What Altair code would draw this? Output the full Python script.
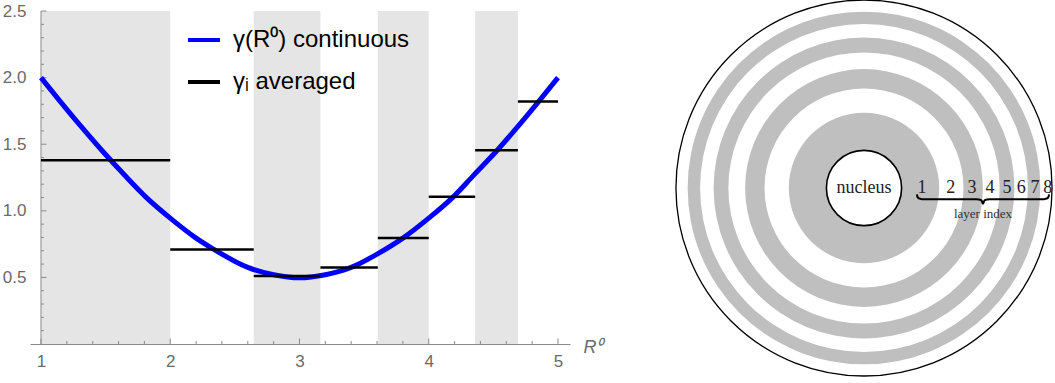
import math
import altair as alt
import pandas as pd

# ---- data -------------------------------------------------------------
# layer boundaries in R^0 (the same layers are shown in both panels)
bounds = [1.0, 2.0, 2.646, 3.162, 3.606, 4.0, 4.359, 4.690, 5.0]
# layer-averaged gamma_i, one value per layer
gamma_avg = [1.38, 0.71, 0.51, 0.575, 0.795, 1.105, 1.455, 1.82]
# continuous gamma(R^0)
curve_r = [1.00, 1.15, 1.30, 1.47, 1.65, 1.81, 2.00, 2.20, 2.33, 2.60, 2.80,
           3.00, 3.20, 3.40, 3.61, 3.80, 4.00, 4.19, 4.35, 4.53, 4.70, 4.85, 5.00]
curve_g = [2.00, 1.82, 1.645, 1.455, 1.265, 1.105, 0.945, 0.795, 0.715, 0.575, 0.52,
           0.497, 0.52, 0.575, 0.68, 0.795, 0.945, 1.105, 1.27, 1.455, 1.645, 1.82, 2.00]

x_major = [1, 2, 3, 4, 5]
x_minor = [1.2, 1.4, 1.6, 1.8, 2.2, 2.4, 2.6, 2.8, 3.2, 3.4, 3.6, 3.8,
           4.2, 4.4, 4.6, 4.8]
y_major = [0.5, 1.0, 1.5, 2.0, 2.5]
y_minor = [0.1, 0.2, 0.3, 0.4, 0.6, 0.7, 0.8, 0.9, 1.1, 1.2, 1.3, 1.4,
           1.6, 1.7, 1.8, 1.9, 2.1, 2.2, 2.3, 2.4]

series_names = ["γ(R⁰) continuous", "γᵢ averaged"]
series_colors = ["#0000ff", "#000000"]

# right panel: label of each layer placed at the layer's mid radius
layer_labels = ["1", "2", "3", "4", "5", "6", "7", "8"]
layer_label_r = [1.54, 2.31, 2.87, 3.35, 3.80, 4.18, 4.55, 4.89]
nucleus_r = 1.0
outer_r = 5.0
# curly brace under the layer labels
brace_x = [1.41, 1.42, 1.45, 1.51, 1.60, 3.00, 3.09, 3.13, 3.165, 3.20,
           3.24, 3.33, 4.73, 4.82, 4.88, 4.91, 4.92]
brace_y = [-0.17, -0.23, -0.27, -0.29, -0.30, -0.30, -0.31, -0.34, -0.42,
           -0.34, -0.31, -0.30, -0.30, -0.29, -0.27, -0.23, -0.17]

# ---- tables -----------------------------------------------------------
layers_df = pd.DataFrame({
    "idx": list(range(1, len(bounds))),
    "lo": bounds[:-1],
    "hi": bounds[1:],
    "gamma": gamma_avg,
    "series": series_names[1],
})
odd_layers = layers_df[layers_df["idx"] % 2 == 1]
curve_df = pd.DataFrame({"r": curve_r, "g": curve_g, "series": series_names[0]})

AX_GRAY = "#8a8a8a"
LBL_GRAY = "#6a6a6a"
SANS = "Liberation Sans"
SERIF = "Liberation Serif"

# ---- left panel: gamma vs R^0 -----------------------------------------
W_L, H_L = 540, 344
xs = alt.Scale(domain=[0.915, 5.093], nice=False, zero=False)
ys = alt.Scale(domain=[0, 2.583], nice=False, zero=True)
color_scale = alt.Scale(domain=series_names, range=series_colors)

# the same axis definitions are repeated on every layer so they merge cleanly
x_axis = alt.Axis(values=x_major, format="d", ticks=False, tickSize=0,
                  grid=False, domainColor=AX_GRAY, domainWidth=1,
                  labelColor=LBL_GRAY, labelFont=SANS, labelFontSize=17,
                  labelPadding=9, title="R⁰", titleFont=SANS,
                  titleFontStyle="italic", titleFontWeight="normal",
                  titleFontSize=18, titleColor=LBL_GRAY, titleX=553,
                  titleY=3, titleAlign="left", titleBaseline="middle")
y_axis = alt.Axis(values=y_major, format=".1f", ticks=False, tickSize=0,
                  grid=False, domain=False, offset=-11,
                  labelColor=LBL_GRAY, labelFont=SANS, labelFontSize=17,
                  labelPadding=15, title=None)

legend = alt.Legend(title=None, orient="none", legendX=156, legendY=22,
                    symbolType="stroke", symbolSize=1024,
                    symbolStrokeWidth=4, labelFont=SANS, labelFontSize=24,
                    labelColor="black", labelOffset=11, labelLimit=0,
                    rowPadding=12, padding=0)

# shaded odd layers
bands = alt.Chart(odd_layers).mark_rect(color="#e5e5e5").encode(
    x=alt.X("lo:Q", scale=xs, axis=x_axis),
    x2="hi:Q",
    y=alt.Y(datum=0, scale=ys, axis=y_axis),
    y2=alt.Y2(datum=2.5),
)

# vertical axis line drawn at R^0 = 1
y_line = alt.Chart(pd.DataFrame({"x": [1.0]})).mark_rule(
    color=AX_GRAY, strokeWidth=1).encode(
    x=alt.X("x:Q", scale=xs, axis=x_axis),
    y=alt.Y(datum=0, scale=ys, axis=y_axis),
    y2=alt.Y2(datum=2.5),
)

def x_ticks(vals, length):
    # inward ticks on the horizontal axis
    return alt.Chart(pd.DataFrame({"t": vals})).mark_rule(
        color=AX_GRAY, strokeWidth=1, y2Offset=-length).encode(
        x=alt.X("t:Q", scale=xs, axis=x_axis),
        y=alt.Y(datum=0, scale=ys, axis=y_axis),
        y2=alt.Y2(datum=0),
    )

def y_ticks(vals, length):
    # inward ticks on the vertical axis
    return alt.Chart(pd.DataFrame({"t": vals})).mark_rule(
        color=AX_GRAY, strokeWidth=1, x2Offset=length).encode(
        y=alt.Y("t:Q", scale=ys, axis=y_axis),
        x=alt.X(datum=1, scale=xs, axis=x_axis),
        x2=alt.X2(datum=1),
    )

curve = alt.Chart(curve_df).mark_line(strokeWidth=5, interpolate="monotone").encode(
    x=alt.X("r:Q", scale=xs, axis=x_axis),
    y=alt.Y("g:Q", scale=ys, axis=y_axis),
    color=alt.Color("series:N", scale=color_scale, legend=legend),
)

averaged = alt.Chart(layers_df).mark_rule(strokeWidth=2.5).encode(
    x=alt.X("lo:Q", scale=xs, axis=x_axis),
    x2="hi:Q",
    y=alt.Y("gamma:Q", scale=ys, axis=y_axis),
    color=alt.Color("series:N", scale=color_scale, legend=legend),
)

left = alt.layer(
    bands, y_line,
    x_ticks(x_major, 5.5), x_ticks(x_minor, 3),
    y_ticks(y_major, 5.5), y_ticks(y_minor, 3),
    curve, averaged,
).properties(width=W_L, height=H_L)

# ---- right panel: layered sphere --------------------------------------
S = 376
xr = alt.Scale(domain=[-5, 5], nice=False, zero=False)
yr = alt.Scale(domain=[-5, 5], nice=False, zero=False)
rs = alt.Scale(type="linear", domain=[0, 5], range=[0, S / 2], zero=True)
FULL = 2 * math.pi

rings = alt.Chart(odd_layers).mark_arc(theta=0, theta2=FULL, color="#bfbfbf").encode(
    radius=alt.Radius("hi:Q", scale=rs),
    radius2="lo:Q",
)

outer = alt.Chart(pd.DataFrame({"r": [outer_r]})).mark_arc(
    theta=0, theta2=FULL, fillOpacity=0, stroke="black", strokeWidth=1.3).encode(
    radius=alt.Radius("r:Q", scale=rs),
)

nucleus = alt.Chart(pd.DataFrame({"r": [nucleus_r]})).mark_arc(
    theta=0, theta2=FULL, fill="white", stroke="black", strokeWidth=1.6).encode(
    radius=alt.Radius("r:Q", scale=rs),
)

nucleus_text = alt.Chart(pd.DataFrame({"x": [0.0], "y": [0.0], "t": ["nucleus"]})).mark_text(
    font=SERIF, fontSize=18, color="#222222", baseline="middle").encode(
    x=alt.X("x:Q", scale=xr, axis=None),
    y=alt.Y("y:Q", scale=yr, axis=None),
    text="t:N",
)

labels = alt.Chart(pd.DataFrame({"x": layer_label_r, "t": layer_labels})).mark_text(
    font=SERIF, fontSize=18, color="#222222", baseline="middle").encode(
    x=alt.X("x:Q", scale=xr, axis=None),
    y=alt.Y(datum=0, scale=yr, axis=None),
    text="t:N",
)

brace = alt.Chart(pd.DataFrame({"x": brace_x, "y": brace_y, "o": range(len(brace_x))})).mark_line(
    color="black", strokeWidth=2, interpolate="monotone").encode(
    x=alt.X("x:Q", scale=xr, axis=None),
    y=alt.Y("y:Q", scale=yr, axis=None),
    order="o:Q",
)

brace_text = alt.Chart(pd.DataFrame({"x": [3.165], "y": [-0.69], "t": ["layer index"]})).mark_text(
    font=SERIF, fontSize=13, color="#333333", baseline="middle").encode(
    x=alt.X("x:Q", scale=xr, axis=None),
    y=alt.Y("y:Q", scale=yr, axis=None),
    text="t:N",
)

right = alt.layer(rings, outer, nucleus, nucleus_text, labels, brace, brace_text).properties(
    width=S, height=S)

PAD = {"left": 2, "top": -3, "right": 0, "bottom": 0}

chart = (
    alt.hconcat(left, right, spacing=106, bounds="flush")
    .resolve_legend(color="independent")
    .properties(padding=PAD, background="white")
    .configure(font=SANS, padding=PAD)
    .configure_view(stroke=None)
)

chart.save("out.html", embed_options={"renderer": "svg", "actions": False})
